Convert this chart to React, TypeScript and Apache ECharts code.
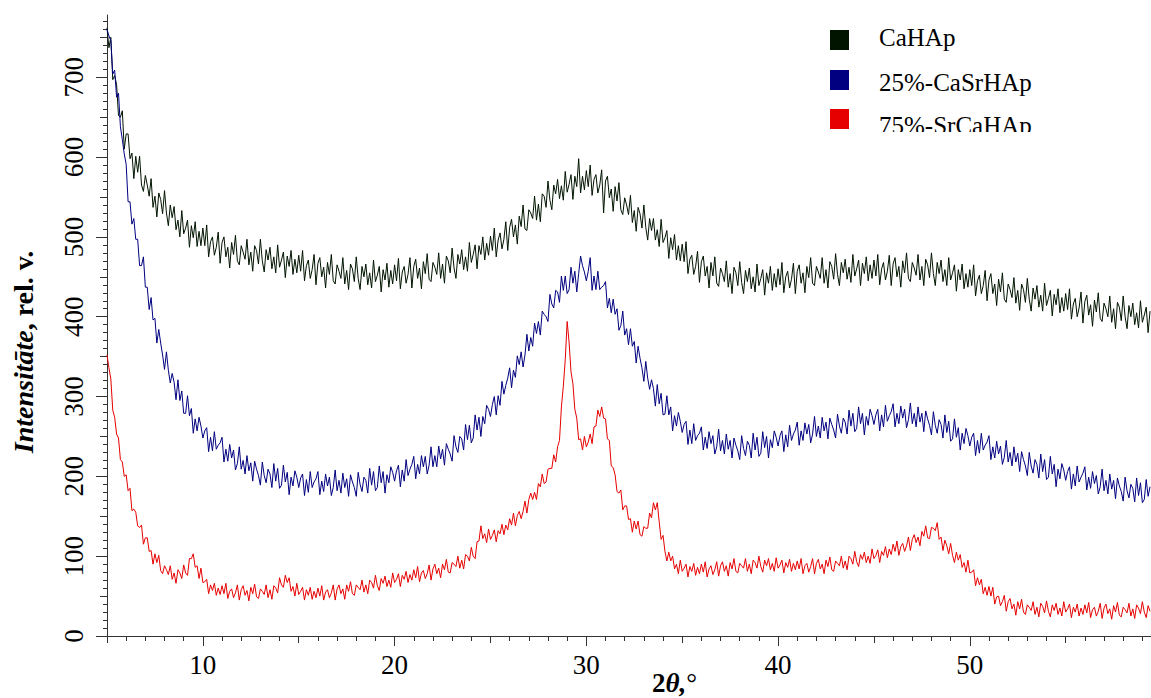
import React, { useEffect, useRef } from "react";
import * as echarts from "echarts";

// 2θ scan, 5.0° … 59.4°, step 0.1° (one row = one degree)
const caHAp = [
  762, 737, 750, 697, 702, 691, 652, 650, 658, 610,
  629, 629, 598, 605, 573, 601, 581, 601, 565, 557,
  577, 565, 551, 573, 537, 551, 525, 555, 547, 529,
  558, 530, 514, 540, 524, 538, 509, 521, 500, 533,
  504, 511, 521, 487, 514, 499, 519, 488, 507, 489,
  511, 489, 515, 475, 494, 500, 477, 487, 506, 467,
  493, 500, 475, 487, 461, 493, 478, 502, 470, 465,
  489, 481, 472, 497, 465, 481, 457, 489, 483, 466,
  497, 470, 456, 484, 471, 487, 460, 475, 455, 490,
  462, 471, 481, 449, 476, 463, 483, 453, 472, 455,
  477, 457, 483, 445, 464, 471, 448, 459, 478, 440,
  467, 474, 450, 462, 436, 468, 453, 478, 445, 441,
  465, 457, 448, 474, 441, 458, 434, 466, 460, 444,
  475, 448, 434, 463, 450, 466, 440, 455, 436, 471,
  444, 452, 463, 431, 459, 446, 467, 437, 458, 441,
  465, 445, 473, 435, 456, 463, 442, 453, 474, 436,
  463, 472, 448, 461, 435, 469, 454, 479, 447, 444,
  468, 462, 453, 480, 448, 466, 442, 476, 470, 455,
  486, 461, 448, 478, 466, 484, 459, 475, 457, 493,
  468, 478, 490, 460, 489, 478, 500, 471, 492, 477,
  501, 483, 511, 475, 496, 505, 485, 497, 519, 483,
  512, 522, 500, 515, 491, 526, 513, 540, 510, 508,
  534, 530, 523, 551, 521, 541, 519, 554, 551, 537,
  570, 546, 534, 565, 554, 572, 548, 564, 546, 582,
  556, 566, 578, 547, 576, 563, 598, 555, 576, 559,
  583, 563, 590, 552, 572, 578, 555, 565, 584, 530,
  570, 576, 549, 560, 532, 563, 545, 568, 534, 528,
  549, 540, 528, 552, 518, 533, 507, 537, 529, 511,
  540, 512, 496, 523, 508, 523, 496, 509, 488, 522,
  493, 499, 508, 473, 499, 484, 503, 471, 489, 470,
  491, 469, 494, 454, 472, 477, 453, 463, 482, 443,
  469, 476, 451, 463, 436, 468, 451, 475, 442, 438,
  461, 454, 444, 470, 437, 454, 429, 462, 455, 439,
  469, 443, 429, 458, 444, 461, 435, 450, 431, 466,
  439, 448, 459, 427, 455, 442, 463, 433, 454, 437,
  460, 440, 468, 430, 450, 457, 436, 447, 467, 429,
  457, 465, 442, 455, 430, 463, 449, 474, 442, 439,
  463, 456, 448, 474, 442, 459, 436, 469, 463, 447,
  479, 453, 439, 468, 455, 472, 447, 462, 443, 478,
  451, 460, 471, 439, 467, 454, 475, 445, 465, 448,
  471, 451, 478, 440, 460, 468, 446, 457, 477, 439,
  466, 474, 450, 463, 437, 470, 455, 480, 448, 444,
  468, 461, 452, 478, 446, 463, 439, 472, 465, 449,
  480, 454, 439, 468, 454, 471, 444, 459, 439, 474,
  446, 455, 465, 432, 459, 446, 466, 435, 454, 437,
  459, 439, 465, 426, 445, 452, 429, 439, 458, 420,
  446, 454, 429, 441, 414, 447, 431, 455, 422, 418,
  441, 434, 424, 449, 417, 433, 408, 441, 434, 418,
  448, 422, 407, 436, 422, 439, 412, 427, 407, 442,
  414, 423, 433, 401, 428, 415, 435, 405, 424, 407,
  429, 409, 435, 397, 416, 423, 400, 411, 431, 392,
  419, 427, 402, 415, 388, 421, 406, 430, 398, 394,
  417, 410, 400, 426, 393, 410, 385, 418, 412, 395,
  426, 400, 385, 414, 400, 417, 390, 405, 386, 420,
  393, 402, 412, 380, 407,
];

const caSrHAp25 = [
  760, 752, 746, 704, 709, 675, 680, 638, 622, 604,
  591, 544, 544, 516, 523, 497, 497, 464, 464, 475,
  437, 437, 409, 424, 396, 398, 367, 384, 367, 352,
  334, 356, 333, 317, 329, 318, 296, 321, 295, 307,
  279, 279, 301, 276, 285, 254, 272, 257, 274, 263,
  248, 257, 261, 231, 249, 232, 256, 234, 239, 242,
  249, 218, 234, 219, 240, 223, 233, 208, 216, 237,
  209, 220, 203, 226, 207, 217, 194, 219, 209, 201,
  189, 218, 201, 192, 209, 203, 186, 216, 194, 210,
  185, 189, 214, 193, 205, 177, 199, 188, 207, 199,
  186, 198, 203, 176, 196, 180, 206, 186, 193, 197,
  206, 177, 194, 181, 203, 188, 199, 176, 186, 208,
  182, 195, 179, 204, 186, 197, 175, 202, 193, 186,
  175, 205, 190, 181, 199, 195, 179, 210, 189, 206,
  182, 186, 213, 192, 206, 179, 202, 192, 212, 205,
  194, 207, 214, 187, 208, 194, 221, 201, 209, 215,
  225, 197, 215, 203, 226, 212, 225, 203, 214, 237,
  212, 226, 212, 238, 222, 234, 214, 241, 234, 228,
  219, 251, 237, 230, 250, 247, 233, 265, 246, 264,
  242, 248, 277, 258, 274, 250, 275, 266, 289, 284,
  275, 290, 300, 277, 301, 289, 319, 303, 314, 323,
  336, 311, 333, 324, 351, 340, 356, 337, 352, 378,
  357, 374, 363, 392, 379, 394, 377, 407, 403, 400,
  394, 428, 416, 411, 433, 431, 418, 451, 433, 451,
  429, 434, 462, 442, 457, 431, 454, 476, 464, 456,
  445, 457, 474, 433, 451, 434, 457, 434, 437, 439,
  444, 411, 423, 405, 422, 403, 410, 383, 389, 407,
  377, 385, 365, 385, 363, 369, 342, 363, 348, 336,
  319, 344, 323, 309, 321, 310, 288, 315, 291, 304,
  277, 278, 301, 277, 287, 257, 276, 263, 280, 269,
  255, 265, 269, 240, 258, 241, 266, 245, 251, 254,
  262, 233, 249, 235, 256, 241, 251, 228, 237, 259,
  232, 245, 228, 253, 234, 245, 223, 248, 239, 232,
  221, 251, 235, 226, 244, 239, 223, 254, 233, 249,
  225, 229, 256, 236, 250, 223, 246, 236, 257, 249,
  238, 251, 257, 231, 252, 237, 264, 245, 253, 258,
  268, 239, 257, 245, 267, 253, 265, 242, 253, 275,
  250, 263, 248, 274, 257, 268, 247, 273, 265, 258,
  248, 278, 263, 254, 273, 268, 253, 283, 263, 279,
  256, 260, 287, 266, 279, 252, 275, 264, 284, 276,
  265, 277, 284, 257, 277, 262, 289, 269, 276, 281,
  291, 262, 279, 266, 288, 273, 284, 261, 271, 292,
  266, 279, 262, 287, 268, 279, 256, 282, 272, 264,
  252, 281, 264, 254, 271, 265, 248, 277, 255, 269,
  244, 247, 272, 249, 261, 233, 254, 241, 260, 251,
  238, 249, 254, 226, 245, 229, 254, 233, 239, 243,
  251, 221, 237, 223, 244, 228, 238, 215, 224, 245,
  218, 230, 213, 237, 218, 229, 206, 231, 221, 213,
  201, 230, 213, 204, 221, 215, 198, 228, 206, 221,
  196, 199, 225, 203, 215, 187, 209, 197, 216, 208,
  195, 206, 212, 184, 203, 188, 213, 193, 199, 204,
  212, 183, 199, 185, 206, 191, 201, 178, 187, 209,
  182, 195, 178, 203, 184, 195, 172, 198, 188, 181,
  169, 199, 182, 173, 190, 185, 168, 198, 176, 192,
  167, 171, 196, 175, 187,
];

const srCaHAp75 = [
  352, 336, 322, 283, 274, 253, 248, 221, 218, 200,
  202, 182, 185, 157, 159, 155, 138, 136, 139, 115,
  123, 123, 106, 107, 90, 103, 92, 101, 82, 78,
  88, 83, 77, 88, 71, 79, 66, 83, 79, 72,
  89, 79, 76, 97, 97, 103, 86, 88, 72, 85,
  67, 68, 71, 53, 64, 57, 66, 51, 60, 52,
  63, 53, 66, 47, 56, 59, 48, 54, 64, 45,
  58, 63, 51, 57, 44, 61, 53, 65, 49, 47,
  59, 56, 52, 64, 48, 58, 46, 63, 60, 54,
  73, 64, 61, 76, 67, 73, 56, 62, 50, 66,
  52, 56, 61, 45, 58, 51, 61, 46, 56, 48,
  60, 50, 63, 45, 55, 58, 48, 54, 64, 45,
  59, 64, 53, 59, 46, 64, 56, 68, 53, 51,
  64, 61, 58, 70, 55, 64, 53, 70, 67, 60,
  76, 63, 57, 72, 66, 75, 62, 70, 61, 79,
  67, 71, 78, 62, 76, 71, 81, 67, 77, 70,
  83, 73, 87, 68, 79, 82, 72, 78, 89, 70,
  84, 90, 78, 85, 73, 90, 83, 96, 80, 79,
  92, 90, 87, 100, 85, 95, 84, 102, 100, 94,
  111, 100, 97, 118, 119, 138, 122, 128, 117, 134,
  121, 126, 133, 118, 132, 128, 140, 127, 139, 133,
  147, 139, 154, 138, 151, 156, 147, 156, 169, 154,
  171, 179, 171, 180, 171, 191, 187, 203, 191, 193,
  209, 210, 210, 227, 218, 237, 245, 287, 313, 346,
  394, 368, 331, 316, 284, 273, 246, 247, 233, 250,
  237, 243, 253, 241, 262, 263, 283, 275, 287, 273,
  272, 247, 245, 213, 211, 202, 181, 179, 183, 158,
  163, 163, 146, 147, 130, 144, 134, 144, 127, 125,
  137, 135, 135, 154, 148, 167, 158, 167, 143, 121,
  126, 106, 94, 105, 94, 100, 84, 90, 78, 95,
  81, 85, 90, 74, 87, 81, 91, 76, 86, 78,
  90, 80, 93, 74, 84, 88, 77, 83, 93, 75,
  88, 93, 81, 88, 75, 92, 84, 97, 81, 79,
  91, 88, 85, 97, 81, 90, 78, 95, 92, 85,
  100, 87, 80, 95, 88, 97, 83, 91, 81, 98,
  85, 89, 95, 79, 92, 86, 96, 81, 91, 83,
  94, 84, 97, 78, 88, 91, 80, 87, 97, 78,
  91, 96, 84, 90, 78, 95, 87, 99, 83, 81,
  94, 91, 88, 100, 85, 94, 83, 100, 97, 90,
  106, 93, 87, 102, 96, 105, 92, 100, 91, 109,
  97, 101, 108, 92, 106, 101, 112, 98, 109, 102,
  115, 106, 119, 101, 112, 116, 106, 113, 124, 107,
  121, 127, 117, 124, 113, 131, 125, 138, 123, 122,
  136, 135, 132, 142, 121, 124, 107, 120, 113, 103,
  116, 101, 92, 105, 95, 102, 86, 92, 80, 95,
  79, 80, 83, 63, 73, 64, 71, 53, 61, 51,
  62, 50, 61, 40, 49, 50, 38, 43, 51, 31,
  43, 47, 34, 40, 26, 43, 34, 46, 30, 27,
  39, 36, 32, 43, 27, 36, 24, 41, 37, 29,
  44, 31, 24, 39, 32, 41, 27, 35, 25, 43,
  30, 34, 40, 23, 36, 30, 40, 25, 35, 27,
  39, 29, 42, 23, 33, 36, 25, 31, 41, 22,
  35, 40, 28, 34, 21, 38, 30, 42, 26, 24,
  36, 33, 29, 41, 25, 34, 22, 39, 35, 28,
  43, 30, 23, 38, 31,
];

const twoTheta = caHAp.map((_, i) => Math.round((5 + i * 0.1) * 10) / 10);

const seriesNames = ["CaHAp", "25%-CaSrHAp", "75%-SrCaHAp"];
const seriesValues = [caHAp, caSrHAp25, srCaHAp75];
const seriesColors = ["#001400", "#000080", "#e60000"];

const xMajor = [10, 20, 30, 40, 50];
const xMedium = [5, 15, 25, 35, 45, 55];
const xMinor = Array.from({ length: 55 }, (_, i) => 5 + i);
const yMajor = [0, 100, 200, 300, 400, 500, 600, 700];
const yMedium = [50, 150, 250, 350, 450, 550, 650, 750];
const yMinor = Array.from({ length: 78 }, (_, i) => i * 10);

const FONT = "Liberation Serif";
const AX = "#333";
const X_MIN = 5;
const X_MAX = 59.45;
const Y_MIN = 0;
const Y_MAX = 778;

function xAxisDef(ticks: number[], len: number, main: boolean) {
  return {
    type: "value",
    min: X_MIN,
    max: X_MAX,
    interval: 5,
    position: "bottom",
    axisLine: { show: main, onZero: false, lineStyle: { color: AX, width: 1 } },
    axisTick: { show: true, inside: false, length: len, customValues: ticks, lineStyle: { color: AX, width: 1 } },
    axisLabel: {
      show: main,
      showMinLabel: false,
      showMaxLabel: false,
      formatter: (v: number) => (xMajor.includes(v) ? String(v) : ""),
      fontSize: 27,
      fontFamily: FONT,
      color: "#000",
      margin: 15,
    },
    splitLine: { show: false },
  };
}

function yAxisDef(ticks: number[], len: number, main: boolean) {
  return {
    type: "value",
    min: Y_MIN,
    max: Y_MAX,
    interval: 100,
    position: "left",
    axisLine: { show: main, onZero: false, lineStyle: { color: AX, width: 1 } },
    axisTick: { show: true, inside: false, length: len, customValues: ticks, lineStyle: { color: AX, width: 1 } },
    axisLabel: { show: false },
    splitLine: { show: false },
  };
}

const legendRowsY = [37.5, 82.5, 125.5];
const legendBoxY = [30, 70, 109];

export default function App() {
  const ref = useRef<HTMLDivElement>(null);

  useEffect(() => {
    if (!ref.current) return;
    const chart = echarts.init(ref.current, null, { renderer: "svg" });

    const baseGraphics: any[] = [
      {
        type: "text",
        x: 23,
        y: 352,
        rotation: Math.PI / 2,
        z: 100,
        style: {
          text: "{a|Intensitāte}{b|, rel. v.}",
          align: "center",
          verticalAlign: "middle",
          fill: "#000",
          rich: {
            a: { fontFamily: FONT, fontSize: 28, fontWeight: "bold", fontStyle: "italic", fill: "#000" },
            b: { fontFamily: FONT, fontSize: 28, fontWeight: "bold", fill: "#000" },
          },
        },
      },
      {
        type: "text",
        x: 652,
        y: 683,
        z: 100,
        style: {
          text: "{a|2}{b|θ,}{c|°}",
          align: "left",
          verticalAlign: "middle",
          fill: "#000",
          rich: {
            a: { fontFamily: FONT, fontSize: 27, fontWeight: "bold", fill: "#000" },
            b: { fontFamily: FONT, fontSize: 27, fontWeight: "bold", fontStyle: "italic", fill: "#000" },
            c: { fontFamily: FONT, fontSize: 27, fill: "#000" },
          },
        },
      },
    ];

    // legend (squares + names)
    seriesNames.forEach((name, i) => {
      baseGraphics.push({
        type: "rect",
        z: 100,
        shape: { x: 830, y: legendBoxY[i], width: 19, height: 20 },
        style: { fill: seriesColors[i] },
      });
      baseGraphics.push({
        type: "text",
        z: 100,
        x: 879,
        y: legendRowsY[i],
        style: {
          text: name,
          fontFamily: FONT,
          fontSize: 25,
          fill: "#000",
          align: "left",
          verticalAlign: "middle",
        },
      });
    });
    // the reference image crops the last legend line
    baseGraphics.push({
      type: "rect",
      z: 101,
      shape: { x: 868, y: 132, width: 200, height: 14 },
      style: { fill: "#fff" },
    });

    const option: any = {
      animation: false,
      backgroundColor: "#fff",
      textStyle: { fontFamily: FONT },
      grid: { left: 107, right: 0, top: 15, bottom: 62, containLabel: false, outerBoundsMode: "none" },
      xAxis: [xAxisDef(xMajor, 10, true), xAxisDef(xMedium, 7, false), xAxisDef(xMinor, 5, false)],
      yAxis: [yAxisDef(yMajor, 11, true), yAxisDef(yMedium, 7, false), yAxisDef(yMinor, 4, false)],
      series: seriesNames.map((name, s) => ({
        name,
        type: "line",
        xAxisIndex: 0,
        yAxisIndex: 0,
        showSymbol: false,
        symbol: "none",
        color: seriesColors[s],
        lineStyle: { color: seriesColors[s], width: 1 },
        data: twoTheta.map((x, i) => [x, seriesValues[s][i]]),
      })),
      graphic: baseGraphics,
    };
    chart.setOption(option);

    // y tick labels, vertical, placed through the axis scale
    const yLabels = yMajor.map((v) => {
      const py = chart.convertToPixel({ yAxisIndex: 0 }, v) as number;
      return {
        type: "text",
        z: 100,
        x: 74,
        y: py,
        rotation: Math.PI / 2,
        style: {
          text: String(v),
          fontFamily: FONT,
          fontSize: 27,
          fill: "#000",
          align: "center",
          verticalAlign: "middle",
        },
      };
    });
    chart.setOption({ graphic: [...baseGraphics, ...yLabels] });

    return () => chart.dispose();
  }, []);

  return (
    <div
      ref={ref}
      style={{ position: "absolute", left: 0, top: 0, width: 1151, height: 698, background: "#fff" }}
    />
  );
}
